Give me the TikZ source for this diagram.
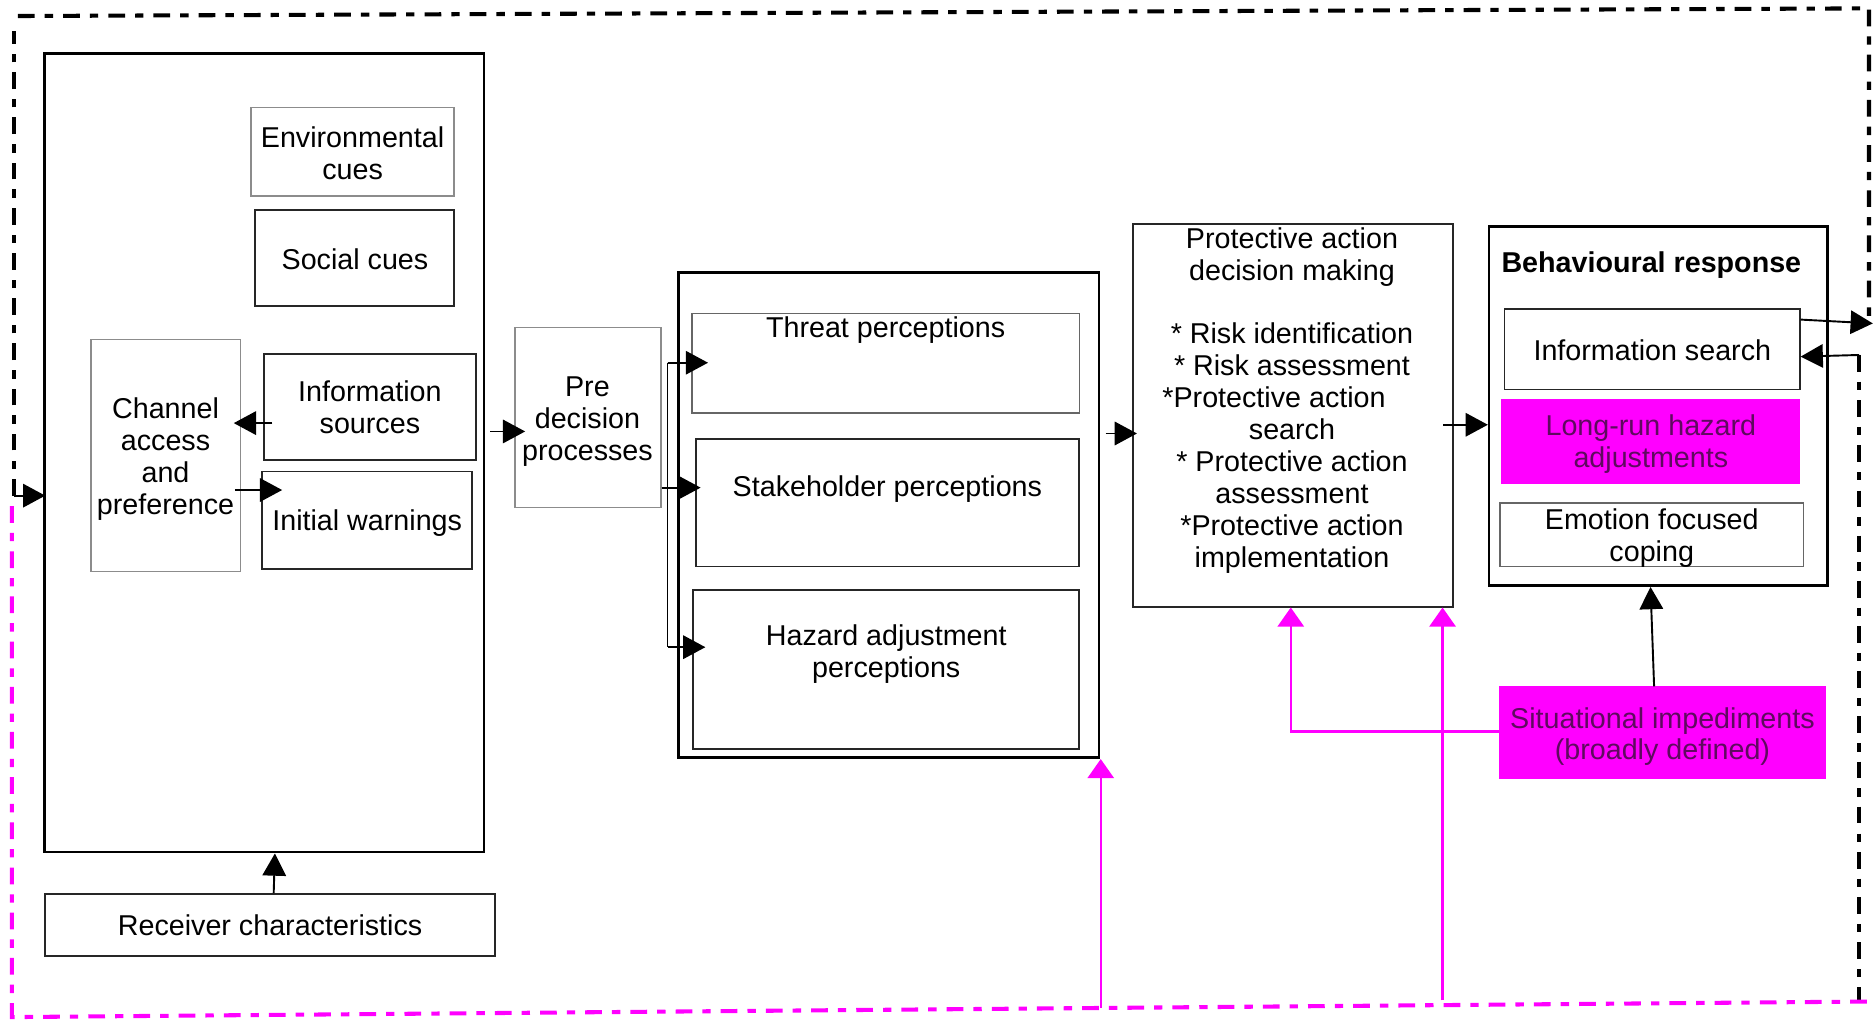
\documentclass[tikz,border=0pt]{standalone}
\usepackage{fontspec}
\setmainfont{Liberation Sans}
\usetikzlibrary{arrows.meta}
\definecolor{mag}{RGB}{255,0,255}
\definecolor{magtext}{RGB}{95,10,95}
\begin{document}
\begin{tikzpicture}[x=0.5pt,y=-0.5pt,
  every node/.style={font=\fontsize{12}{13.35}\selectfont, align=center, inner sep=0pt},
  thinbox/.style={draw=black!45, line width=0.6pt},
  darkbox/.style={draw=black!85, line width=0.8pt},
  bigbox/.style={draw=black, line width=1.1pt},
  magbox/.style={draw=mag, fill=mag},
  magtxt/.style={text=magtext},
  arr/.style={-{Triangle[length=9.3pt,width=9.8pt]}, line width=0.8pt},
  magarr/.style={draw=mag, -{Triangle[length=8pt,width=11pt]}, line width=0.9pt},
  loopline/.style={line width=1.7pt, dash pattern=on 7pt off 4.2pt on 3.5pt off 4.2pt}
]
\useasboundingbox (0,0) rectangle (1568,853);

% left column
\node[bigbox, minimum width=184pt, minimum height=334pt] (big) at (221,379) {};
\node[thinbox, minimum width=85pt, minimum height=37pt] (env) at (295,127) {};
\node (envlbl) at (295,128.2) {Environmental\\cues};
\node[darkbox, minimum width=83.25pt, minimum height=40pt] (social) at (296.75,216) {};
\node (sociallbl) at (297,217) {Social cues};
\node[thinbox, minimum width=62.5pt, minimum height=97pt] (channel) at (138.5,381) {};
\node (channellbl) at (138.5,384) {Channel\\access\\and\\preference};
\node[darkbox, minimum width=88.5pt, minimum height=44.5pt] (infosrc) at (309.5,340.5) {};
\node (infosrclbl) at (309.5,340.5) {Information\\sources};
\node[darkbox, minimum width=87.75pt, minimum height=40.75pt] (initwarn) at (307.25,435.25) {};
\node (initwarnlbl) at (307.25,437.8) {Initial warnings};
\node[darkbox, minimum width=188pt, minimum height=26pt] (receiver) at (226,774) {};
\node (receiverlbl) at (226,774) {Receiver characteristics};

% pre decision
\node[thinbox, minimum width=61pt, minimum height=75.3pt] (pre) at (492,349.3) {};
\node (prelbl) at (491.5,352.5) {Pre\\decision\\processes};

% perceptions
\node[bigbox, minimum width=176pt, minimum height=203pt] (perc) at (743.5,431) {};
\node[thinbox, draw=black!60, minimum width=162pt, minimum height=41.6pt] (threat) at (741,304.1) {};
\node (threatlbl) at (741,276.5) {Threat perceptions};
\node[darkbox, minimum width=160.3pt, minimum height=53.25pt] (stake) at (742.7,420.75) {};
\node (stakelbl) at (742.5,409) {Stakeholder perceptions};
\node[darkbox, minimum width=161.5pt, minimum height=66.5pt] (hazard) at (741.5,560.5) {};
\node (hazardlbl) at (741.5,547.5) {Hazard adjustment\\perceptions};

% protective action decision making
\node[darkbox, line width=0.7pt, minimum width=134pt, minimum height=160.15pt] (padm) at (1082,347.45) {};
\node (padmlbl) at (1081,335) {Protective action\\decision making\\[13.35pt]* Risk identification\\* Risk assessment\\*Protective action\hspace{15pt}\mbox{}\\search\\* Protective action\\assessment\\*Protective action\\implementation};

% behavioural response
\node[bigbox, minimum width=141.5pt, minimum height=150.2pt] (behav) at (1387.5,339.8) {};
\node[font=\fontsize{12}{13.35}\selectfont\bfseries] (behavlbl) at (1381.7,222) {Behavioural response};
\node[darkbox, line width=0.6pt, minimum width=123.5pt, minimum height=33.65pt] (infosearch) at (1382.5,292.35) {};
\node (infosearchlbl) at (1382.5,293.3) {Information search};
\node[magbox, minimum width=124.75pt, minimum height=35.2pt] (longrun) at (1381.25,369.2) {};
\node[magtxt] (longrunlbl) at (1381.25,371.5) {Long-run hazard\\adjustments};
\node[thinbox, draw=black!60, minimum width=127pt, minimum height=26.5pt] (emotion) at (1382,447.5) {};
\node (emotionlbl) at (1382,450.2) {Emotion focused\\coping};
\node[magbox, minimum width=136pt, minimum height=38.35pt] (sit) at (1391,613) {};
\node[magtxt] (sitlbl) at (1391,616.3) {Situational impediments\\(broadly defined)};

% black connectors
\draw[arr, shorten <=-3.8pt, shorten >=-3pt] (infosrc.west |- 0,354) -- (channel.east |- 0,354);
\draw[arr, shorten <=-2.5pt, shorten >=-8.7pt] (channel.east |- 0,410) -- (initwarn.west |- 0,410);
\draw[arr, shorten <=2pt, shorten >=-4.5pt] (big.east |- 0,361) -- (pre.west |- 0,361);
\coordinate (brtop) at (558.5,303.5);
\coordinate (brbot) at (558.5,541.5);
\draw[line width=0.8pt] (brtop) -- (brbot);
\draw[arr, shorten >=-7pt] (brtop) -- (threat.west |- brtop);
\draw[arr, shorten >=-2.3pt] (pre.east |- 0,408) -- (stake.west |- 0,408);
\draw[arr, shorten >=-5.5pt] (brbot) -- (hazard.west |- brbot);
\draw[arr, shorten <=2.2pt, shorten >=-2pt] (perc.east |- 0,362.7) -- (padm.west |- 0,362.7);
\draw[arr, shorten <=-4.5pt] (padm.east |- 0,355.4) -- (behav.west |- 0,355.4);
\coordinate (outR1) at (1567,270.6);
\coordinate (outR2) at (1555.5,297);
\draw[arr] (infosearch.east |- 0,267.4) -- (outR1);
\draw[arr] (outR2) -- (infosearch.east |- 0,298.4);
\draw[arr] (sit.north -| 1384,0) -- (behav.south -| 1381,0);
\draw[arr] (receiver.north -| 229,0) -- (big.south -| 230,0);
\coordinate (outL) at (12,414.7);
\draw[arr, shorten >=-1pt] (outL) -- (big.west |- outL);

% outer feedback loop
\coordinate (lt) at (12,26);
\coordinate (tl) at (15,13.4);
\coordinate (tr) at (1563.8,7);
\coordinate (rr) at (1563.8,268);
\coordinate (rl) at (1555.5,838);
\coordinate (br) at (1562,838);
\coordinate (bl) at (10,851);
\coordinate (ml) at (10,416);
\draw[loopline] (outL) -- (lt);
\draw[loopline] (tl) -- (tr) -- (rr);
\draw[loopline] (outR2) -- (rl);
\draw[loopline, draw=mag] (br) -- (bl) -- (ml);

% magenta connectors
\coordinate (mb1) at (921,843.5);
\coordinate (mb2) at (1207,837);
\draw[magarr] (mb1) -- (perc.south -| mb1);
\draw[magarr] (mb2) -- (padm.south -| mb2);
\draw[magarr] (sit.west |- 0,612) -| (padm.south -| 1080,0);
\end{tikzpicture}
\end{document}
